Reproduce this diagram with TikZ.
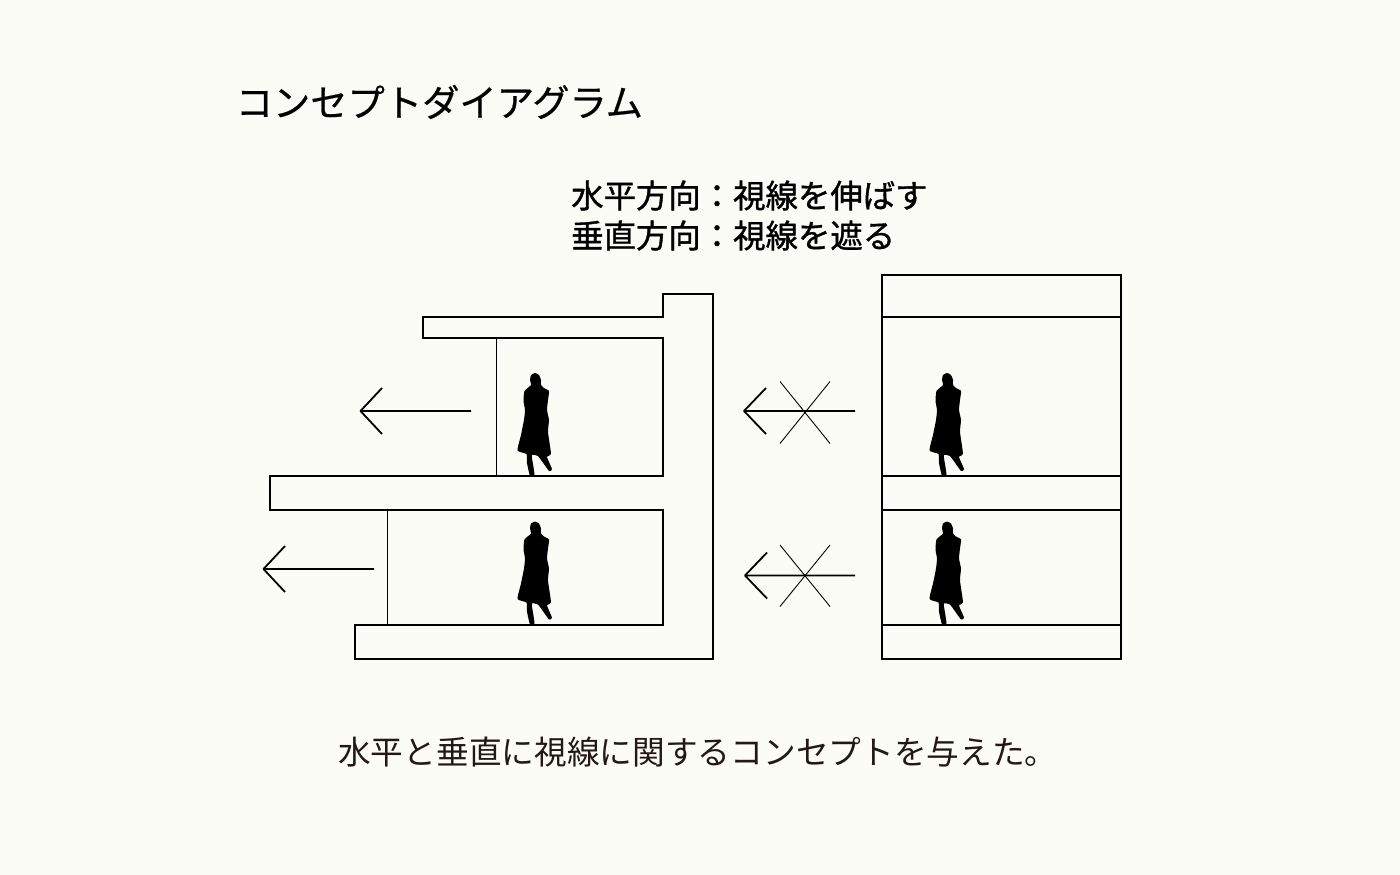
\documentclass[tikz,border=0pt]{standalone}
\usepackage{fontspec}
\newfontfamily\jp{Noto Sans CJK JP}
\newfontfamily\jpm[FakeBold=1.1]{Noto Sans CJK JP}
\newfontfamily\jpt[FakeBold=0.5]{Noto Sans CJK JP}
\definecolor{paper}{HTML}{FCFCF7}
\definecolor{ink}{HTML}{000000}
\definecolor{caption}{HTML}{231815}
\tikzset{
  wall/.style={draw=ink,line width=2.2pt,line join=miter},
  glass/.style={draw=ink,line width=0.9pt},
  sight/.style={draw=ink,line width=1.8pt,line join=round},
  cross/.style={draw=ink,line width=0.9pt},
  txt/.style={anchor=west,inner sep=0pt},
  person/.pic={
    \fill[ink] plot[smooth cycle,tension=0.3] coordinates {
      (45,13)(49,15)(51,20)(51,25)(54,28)(59,31)(58,40)(57,50)(59,60)(58,72)(61,94)
      (57,97)(62,109)(59,111)(48,96)(42,95)(42,98)(44.5,115)(40,116)(37,103)(36.5,94)(27.5,90.5)(31,75)(34,60)(35,50)(33.5,41)(34.5,31)(41,25)(40,20)(41,15)};
  }
}
\begin{document}
\begin{tikzpicture}[x=1pt,y=-1pt]
\fill[paper] (0,0) rectangle (1400,875);
\useasboundingbox (0,0) rectangle (1400,875);
\node[txt,font=\jpt\fontsize{37.3}{37.3}\selectfont] (title) at (235.5,102) {コンセプトダイアグラム};
\node[txt,font=\jpm\fontsize{32.4}{32.4}\selectfont] (lineone) at (571,195.5) {水平方向：視線を伸ばす};
\node[txt,font=\jpm\fontsize{32.4}{32.4}\selectfont] (linetwo) at (571,235.5) {垂直方向：視線を遮る};
\node[txt,text=caption,font=\jp\fontsize{32.7}{32.7}\selectfont] (caption) at (338,752) {水平と垂直に視線に関するコンセプトを与えた。};
% left section
\draw[wall] (663,294)--(713,294)--(713,659)--(355,659)--(355,625)--(663,625)--(663,510)--(270,510)--(270,476)--(663,476)--(663,338)--(423,338)--(423,317)--(663,317)--cycle;
\draw[glass] (496.7,338)--(496.7,476);
\draw[glass] (387,510)--(387,625);
% right section
\draw[wall] (882.3,275) rectangle (1121,659);
\draw[wall] (882.3,317)--(1121,317);
\draw[wall] (882.3,476)--(1121,476);
\draw[wall] (882.3,510)--(1121,510);
\draw[wall] (882.3,625)--(1121,625);
% arrows
\draw[sight] (471,411)--(360.5,411) (382,388)--(360.5,411)--(382,434);
\draw[sight] (374,569)--(263.5,569) (285,546)--(263.5,569)--(285,592);
\draw[sight] (855,411)--(744,411) (766,388)--(744,411)--(766,434);
\draw[sight] (855,575.5)--(745,575.5) (767,552.5)--(745,575.5)--(767,598.5);
\draw[cross] (780,381.5)--(830,443.5) (830,381.5)--(780,443.5);
\draw[cross] (780,545)--(830,606.5) (830,545)--(780,606.5);
% people
\pic at (490,360) {person};
\pic at (490,508.5) {person};
\pic at (902,360) {person};
\pic at (902,508.5) {person};
\end{tikzpicture}
\end{document}
